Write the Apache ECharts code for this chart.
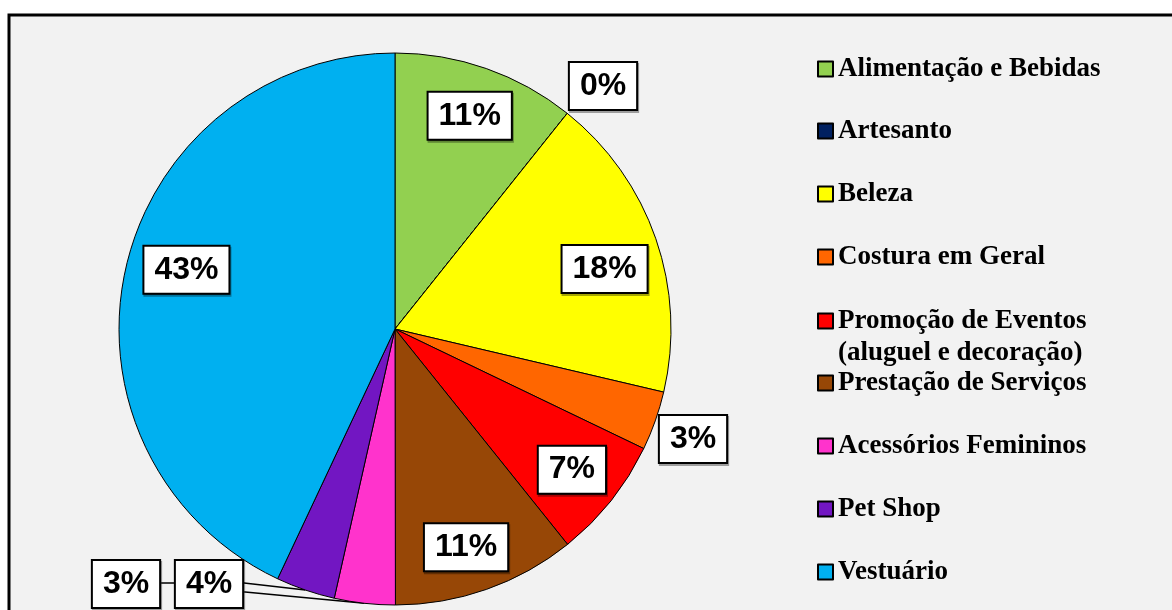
<!DOCTYPE html>
<html>
<head>
<meta charset="utf-8">
<script src="https://cdn.jsdelivr.net/npm/echarts@6/dist/echarts.min.js"></script>
<style>
  html, body { margin: 0; padding: 0; background: #fff; }
  #main { width: 1172px; height: 610px; }
</style>
</head>
<body>
<div id="main"></div>
<script>
// categorias e valores (%)
var categorias = [
  'Alimentação e Bebidas',
  'Artesanto',
  'Beleza',
  'Costura em Geral',
  'Promoção de Eventos\n(aluguel e decoração)',
  'Prestação de Serviços',
  'Acessórios Femininos',
  'Pet Shop',
  'Vestuário'
];
var valores = [10.7, 0, 17.9, 3.45, 7.1, 10.7, 3.55, 3.45, 42.9];
var cores = ['#92D050', '#002060', '#FFFF00', '#FF6600', '#FF0000', '#974706', '#FF33CC', '#7216C2', '#00B0F0'];

// rótulos que ficam fora da pizza (indice -> posição)
var rotulosFora = { 1: [603, 86], 3: [693, 439], 6: [209, 584], 7: [126, 584] };
// pequenos ajustes dos rótulos internos
var ajusteDentro = { 2: [-4, 14], 5: [-4, 5], 8: [12, -10] };
// centro y dos itens da legenda
var legendaY = [68, 130, 193, 256, 320, 382, 445, 508, 571];

var centro = [395, 329];
var raio = 276;

var total = valores.reduce(function (a, b) { return a + b; }, 0);
function pontoBorda(i) {
  var acum = 0;
  for (var k = 0; k < i; k++) acum += valores[k];
  var ang = (acum + valores[i] / 2) / total * 2 * Math.PI;
  return [centro[0] + raio * Math.sin(ang), centro[1] - raio * Math.cos(ang)];
}

var caixa = {
  color: '#000',
  fontFamily: 'Liberation Sans',
  fontWeight: 'bold',
  fontSize: 32,
  lineHeight: 34,
  backgroundColor: '#fff',
  borderColor: '#000',
  borderWidth: 2,
  padding: [7, 10, 5, 10],
  shadowColor: 'rgba(0,0,0,0.35)',
  shadowOffsetX: 1,
  shadowOffsetY: 2,
  formatter: function (p) { return Math.round(p.value) + '%'; }
};

var myChart = echarts.init(document.getElementById('main'));

var dadosPizza = categorias.map(function (c, i) {
  var fora = rotulosFora[i] !== undefined;
  return {
    name: c,
    value: valores[i],
    itemStyle: { color: cores[i] },
    label: { show: fora },
    labelLine: { show: i === 6 || i === 7 }
  };
});
var dadosInternos = categorias.map(function (c, i) {
  return {
    name: c,
    value: valores[i],
    label: { show: rotulosFora[i] === undefined }
  };
});

var legendas = categorias.map(function (c, i) {
  var duasLinhas = c.indexOf('\n') >= 0;
  return {
    orient: 'vertical',
    left: 817,
    top: legendaY[i] + 1 - (duasLinhas ? 48 : 16),
    padding: 0,
    itemWidth: 15,
    itemHeight: 15,
    itemGap: 0,
    icon: 'rect',
    selectedMode: false,
    data: [c],
    formatter: function (n) { return n.indexOf('\n') >= 0 ? '\n' + n : n; },
    textStyle: {
      fontFamily: 'Liberation Serif',
      fontWeight: 'bold',
      fontSize: 27,
      lineHeight: 32,
      color: '#000'
    }
  };
});

var option = {
  animation: false,
  backgroundColor: '#fff',
  graphic: [{
    type: 'rect',
    z: -10,
    shape: { x: 9, y: 15, width: 1180, height: 610 },
    style: { fill: '#F2F2F2', stroke: '#000', lineWidth: 3 }
  }],
  legend: legendas,
  series: [
    {
      name: 'principal',
      type: 'pie',
      center: centro,
      radius: raio,
      startAngle: 90,
      clockwise: true,
      avoidLabelOverlap: false,
      itemStyle: { borderColor: '#000', borderWidth: 1 },
      label: Object.assign({ position: 'outside' }, caixa),
      labelLine: { show: true, length: 20, length2: 10, lineStyle: { color: '#000', width: 1.5 } },
      labelLayout: function (p) {
        var pos = rotulosFora[p.dataIndex];
        if (!pos) return {};
        var out = { x: pos[0], y: pos[1], align: 'center', verticalAlign: 'middle' };
        if (p.dataIndex === 6 || p.dataIndex === 7) {
          var s = pontoBorda(p.dataIndex);
          var borda = rotulosFora[6][0] + p.labelRect.width / 2;
          if (p.dataIndex === 7) {
            var ini = pos[0] + p.labelRect.width / 2;
            out.labelLinePoints = [s, [borda, pos[1] - 1], [ini, pos[1] - 1]];
          } else {
            out.labelLinePoints = [s, [borda + 1, pos[1] + 8], [borda, pos[1] + 8]];
          }
        }
        return out;
      },
      data: dadosPizza
    },
    {
      name: 'rotulos',
      type: 'pie',
      center: centro,
      radius: [170, raio],
      startAngle: 90,
      clockwise: true,
      silent: true,
      avoidLabelOverlap: false,
      itemStyle: { color: 'rgba(0,0,0,0)', borderWidth: 0 },
      label: Object.assign({ position: 'inside' }, caixa),
      labelLine: { show: false },
      labelLayout: function (p) {
        var a = ajusteDentro[p.dataIndex];
        return a ? { dx: a[0], dy: a[1] } : {};
      },
      data: dadosInternos
    }
  ]
};
myChart.setOption(option);
</script>
</body>
</html>
